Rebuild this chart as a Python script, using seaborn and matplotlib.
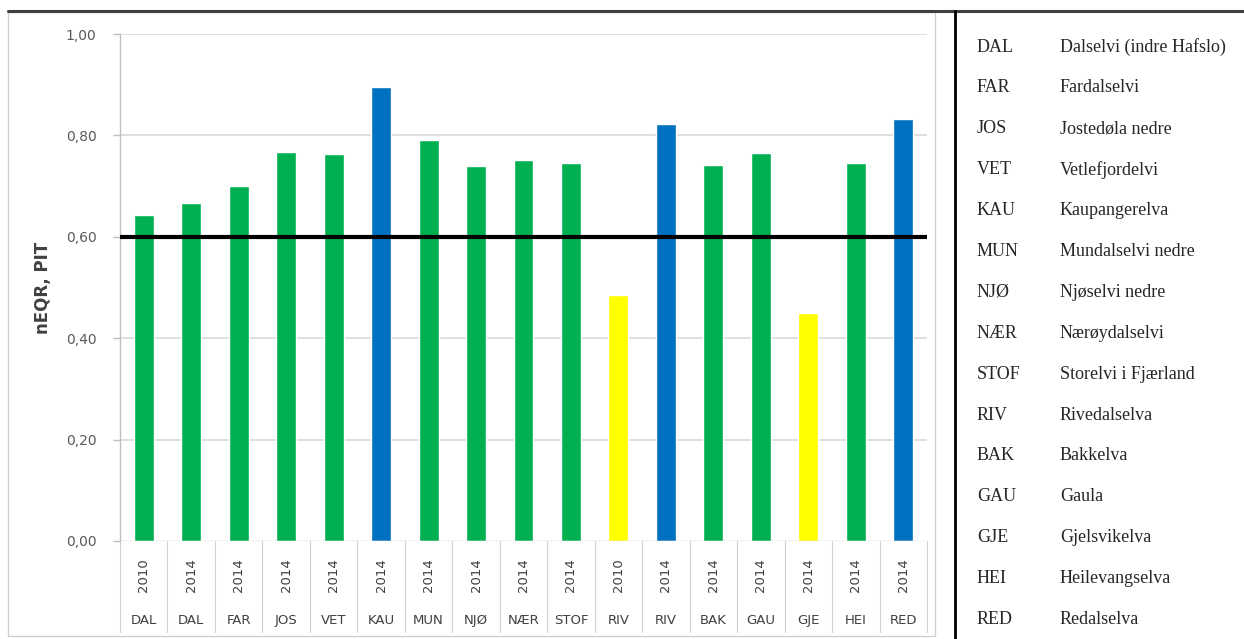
import numpy as np
import pandas as pd
import matplotlib
matplotlib.use("Agg")
import matplotlib.pyplot as plt
import matplotlib.transforms as mtransforms
import seaborn as sns

# %% data
stasjon = ["DAL", "DAL", "FAR", "JOS", "VET", "KAU", "MUN", "NJØ", "NÆR",
           "STOF", "RIV", "RIV", "BAK", "GAU", "GJE", "HEI", "RED"]
aar = ["2010", "2014", "2014", "2014", "2014", "2014", "2014", "2014", "2014",
       "2014", "2010", "2014", "2014", "2014", "2014", "2014", "2014"]
neqr = [0.643, 0.667, 0.700, 0.767, 0.763, 0.895, 0.791, 0.740, 0.751,
        0.746, 0.485, 0.822, 0.742, 0.765, 0.450, 0.745, 0.832]
tilstand = ["god", "god", "god", "god", "god", "svaert god", "god", "god", "god",
            "god", "moderat", "svaert god", "god", "god", "moderat", "god", "svaert god"]
yticks = [0.0, 0.2, 0.4, 0.6, 0.8, 1.0]

forkortelse = ["DAL", "FAR", "JOS", "VET", "KAU", "MUN", "NJØ", "NÆR", "STOF",
               "RIV", "BAK", "GAU", "GJE", "HEI", "RED"]
elvenavn = ["Dalselvi (indre Hafslo)", "Fardalselvi", "Jostedøla nedre",
            "Vetlefjordelvi", "Kaupangerelva", "Mundalselvi nedre", "Njøselvi nedre",
            "Nærøydalselvi", "Storelvi i Fjærland", "Rivedalselva", "Bakkelva",
            "Gaula", "Gjelsvikelva", "Heilevangselva", "Redalselva"]

farger = {"svaert god": "#0070C0", "god": "#00B050", "moderat": "#FFFF00"}

veri = pd.DataFrame({"stasjon": stasjon, "aar": aar, "neqr": neqr, "tilstand": tilstand})
veri["key"] = [f"{s} {a} {i}" for i, (s, a) in enumerate(zip(stasjon, aar))]

# %% figure
sns.set_style("white")
plt.rcParams["font.family"] = ["DejaVu Sans"]

fig = plt.figure(figsize=(12.44, 6.39), dpi=100)
W, H = 1244, 639
ax = fig.add_axes([120 / W, (H - 541) / H, (927 - 120) / W, (541 - 34) / H])

sns.barplot(data=veri, x="key", y="neqr", hue="tilstand", palette=farger,
            dodge=False, width=0.42, legend=False, ax=ax, saturation=1)

ax.set_ylim(0, 1.0)
ax.set_xlim(-0.5, len(neqr) - 0.5)
ax.set_yticks(yticks)
ax.set_yticklabels([f"{t:.2f}".replace(".", ",") for t in yticks],
                   color="#595959", fontsize=10)
ax.tick_params(axis="y", length=5, color="#BFBFBF", width=1, pad=12, left=True)
for t in yticks:
    if t in (0.0, 0.6):
        continue
    ax.axhline(t, color="#D9D9D9", lw=1.2, zorder=0)
ax.axhline(0.6, color="black", lw=3, zorder=3)
ax.axhline(0.0, color="#BFBFBF", lw=1, zorder=3)

for s in ["top", "right", "bottom"]:
    ax.spines[s].set_visible(False)
ax.spines["left"].set_color("#BFBFBF")
ax.spines["left"].set_linewidth(1)

ax.set_xlabel("")
ax.set_ylabel("nEQR, PIT", fontsize=12, fontweight="bold", color="#404040", labelpad=10)
ax.set_xticks([])

# two-level category axis
trans = mtransforms.blended_transform_factory(ax.transData, ax.transAxes)
for i, (s, a) in enumerate(zip(stasjon, aar)):
    ax.text(i, -0.068, a, rotation=90, ha="center", va="center", fontsize=9.5,
            color="#404040", transform=trans)
    ax.text(i, -0.156, s, ha="center", va="center", fontsize=9.5,
            color="#404040", transform=trans)
for b in np.arange(-0.5, len(neqr), 1.0):
    ax.plot([b, b], [0, -0.18], color="#D0D0D0", lw=0.8, transform=trans, clip_on=False)

# chart frame and the right-hand table
fig.add_artist(plt.Rectangle((8 / W, 3 / H), (935 - 8) / W, (627 - 3) / H,
                             fill=False, ec="#D0D0D0", lw=1, transform=fig.transFigure))
fig.add_artist(plt.Line2D([8 / W, 1], [(H - 11) / H] * 2, color="#404040", lw=2.2,
                          transform=fig.transFigure))
fig.add_artist(plt.Line2D([955 / W] * 2, [0, (H - 11) / H], color="black", lw=2,
                          transform=fig.transFigure))

for k, (f, n) in enumerate(zip(forkortelse, elvenavn)):
    y = (H - 47 - k * 40.9) / H
    fig.text(977 / W, y, f, family="Liberation Serif", fontsize=13, va="center")
    fig.text(1060 / W, y, n, family="Liberation Serif", fontsize=13, va="center")

fig.savefig("out.png", dpi=100)
